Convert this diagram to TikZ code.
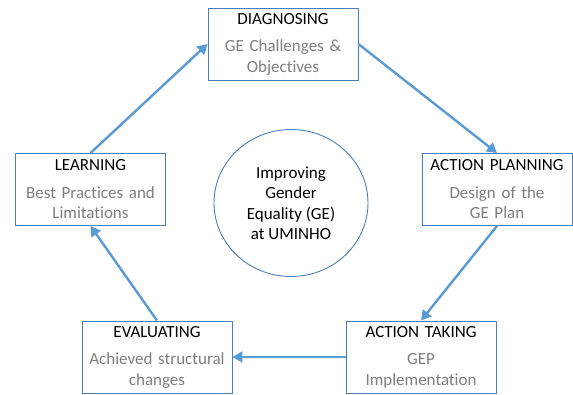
\documentclass[tikz,border=0pt]{standalone}
\usepackage{fontspec}
\setmainfont[Ligatures={NoCommon}]{Carlito}
\usepackage{xcolor}
\usepackage{tikz}
\usetikzlibrary{shapes.geometric,arrows.meta,positioning}
\definecolor{cycleblue}{HTML}{4A7EBB}
\definecolor{cyclearrow}{HTML}{5B9BD5}
\definecolor{cyclegray}{HTML}{7F7F7F}

\newcommand{\phasetext}[2]{{\color{black}#1}\\[7pt]{\color{cyclegray}#2}}

\begin{document}
\begin{tikzpicture}[
    x=1pt, y=1pt,
    every node/.style={font=\fontsize{17}{20.5}\selectfont},
    phase/.style={rectangle, draw=cycleblue, fill=white, line width=0.9pt, text width=144pt, minimum width=150pt, minimum height=72pt, align=center, inner sep=3pt},
    core/.style={ellipse, draw=cycleblue, line width=0.9pt, minimum width=154pt, minimum height=147pt, align=center, inner sep=0pt},
    arr/.style={-{Triangle[length=10pt, width=11pt]}, line width=2.4pt, draw=cyclearrow}
]
    \useasboundingbox (0,0) rectangle (573,394);

    % Centre
    \node (ge) [core] at (291,191) {Improving\\Gender\\Equality (GE)\\at UMINHO};

    % Phases of the cycle
    \node (diag) [phase] at (283,350) {\phasetext{DIAGNOSING}{GE Challenges \&\\Objectives}};
    \node (plan) [phase] at (497,204.5) {\phasetext{ACTION PLANNING}{Design of the\\GE Plan}};
    \node (take) [phase] at (421,37) {\phasetext{ACTION TAKING}{GEP\\Implementation}};
    \node (eval) [phase] at (157,37) {\phasetext{EVALUATING}{Achieved structural\\changes}};
    \node (learn) [phase] at (90.5,204.5) {\phasetext{LEARNING}{Best Practices and\\Limitations}};

    % Connectors
    \draw [arr] (learn.north) -- (diag.west);
    \draw [arr] (diag.east) -- (plan.north);
    \draw [arr] (plan.south) -- (take.north);
    \draw [arr] (take.west) -- (eval.east);
    \draw [arr] (eval.north) -- (learn.south);
\end{tikzpicture}
\end{document}
